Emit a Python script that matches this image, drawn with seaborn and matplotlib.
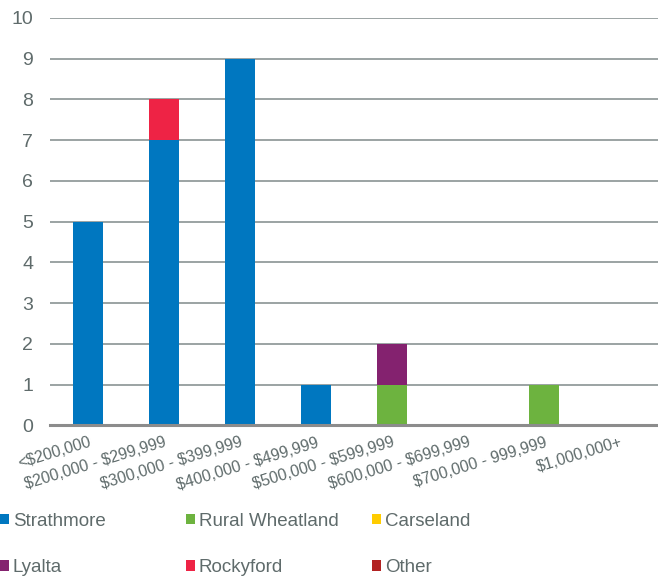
import matplotlib
matplotlib.use("Agg")
import matplotlib.pyplot as plt
from matplotlib.patches import Patch
import seaborn as sns
import numpy as np

# Data
categories = ["<$200,000", "$200,000 - $299,999", "$300,000 - $399,999",
              "$400,000 - $499,999", "$500,000 - $599,999", "$600,000 - $699,999",
              "$700,000 - 999,999", "$1,000,000+"]
strathmore = [5, 7, 9, 1, 0, 0, 0, 0]
rural_wheatland = [0, 0, 0, 0, 1, 0, 1, 0]
carseland = [0, 0, 0, 0, 0, 0, 0, 0]
lyalta = [0, 0, 0, 0, 1, 0, 0, 0]
rockyford = [0, 1, 0, 0, 0, 0, 0, 0]
other = [0, 0, 0, 0, 0, 0, 0, 0]

series_names = ["Strathmore", "Rural Wheatland", "Carseland", "Lyalta", "Rockyford", "Other"]
series_values = [strathmore, rural_wheatland, carseland, lyalta, rockyford, other]
series_colors = ["#0077C0", "#6DB33F", "#FFCC00", "#84226F", "#EE2345", "#B22222"]

text_col = "#5f6b6b"
grid_col = "#8a9494"

sns.set_style("white")
plt.rcParams['font.family'] = ['Liberation Sans', 'DejaVu Sans']
plt.rcParams['text.parse_math'] = False  # keep the $ signs literal

fig = plt.figure(figsize=(6.58, 5.77), dpi=100)
ax = fig.add_axes([0.076, 0.263, 0.924, 0.706])

# Stacked bars, one seaborn call per series
bottom = np.zeros(len(categories))
for name, vals, col in zip(series_names, series_values, series_colors):
    sns.barplot(x=categories, y=vals, bottom=bottom, color=col, width=0.4,
                ax=ax, saturation=1, linewidth=0, order=categories)
    bottom += np.array(vals)

ax.set_ylim(0, 10)
ax.set_yticks(range(0, 11))
ax.set_xlim(-0.5, len(categories) - 0.5)
ax.yaxis.grid(True, color=grid_col, linewidth=1.2)
ax.set_axisbelow(True)
for s in ["top", "right", "left"]:
    ax.spines[s].set_visible(False)
ax.spines["bottom"].set_color("#8c8c8c")
ax.spines["bottom"].set_linewidth(2.2)
ax.tick_params(axis="y", length=0, labelsize=14, labelcolor=text_col, pad=12)
ax.tick_params(axis="x", length=0, labelsize=11.5, labelcolor=text_col, pad=7)
plt.setp(ax.get_xticklabels(), rotation=17, ha="right", rotation_mode="anchor")
ax.set_xlabel("")
ax.set_ylabel("")

# Legend: three columns, two rows
for i in range(3):
    handles = [Patch(facecolor=series_colors[j], edgecolor="none")
               for j in (i, i + 3)]
    labels = [series_names[j] for j in (i, i + 3)]
    leg = fig.legend(handles, labels, loc="lower left",
                     bbox_to_anchor=(0.283 * i - 0.012, -0.011),
                     frameon=False, fontsize=13.5, handlelength=0.5,
                     handleheight=0.5, handletextpad=0.2, labelspacing=1.55,
                     borderaxespad=0)
    for t in leg.get_texts():
        t.set_color(text_col)

fig.savefig("out.png", dpi=100)
